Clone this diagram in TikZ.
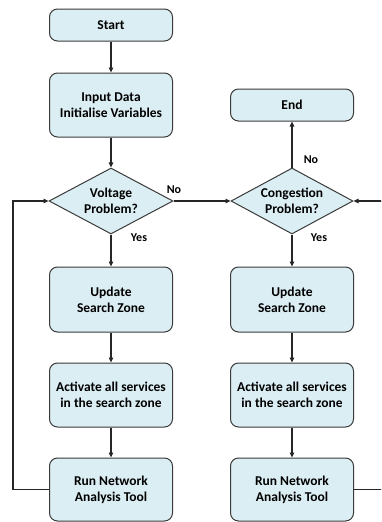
\documentclass[tikz,border=0pt]{standalone}
\usepackage{fontspec}
\setmainfont{Carlito}
\usetikzlibrary{positioning,shapes.geometric,arrows.meta}
\definecolor{boxfill}{HTML}{DBEEF4}
\definecolor{boxline}{HTML}{3A3A3A}
\tikzset{
  flowbox/.style={rectangle, rounded corners=8pt, draw=boxline, fill=boxfill, line width=1pt,
    minimum width=123pt, inner sep=0pt, align=center, font=\fontsize{13.5}{16}\selectfont\bfseries},
  decision/.style={diamond, aspect=1.88, draw=boxline, fill=boxfill, line width=1pt,
    minimum width=124pt, minimum height=66pt, inner sep=0pt, align=center, font=\fontsize{13.5}{16}\selectfont\bfseries},
  flowarr/.style={-{Triangle[length=5pt,width=4.5pt]}, line width=1.2pt, draw=black!85},
  answer/.style={inner sep=1pt, font=\fontsize{12}{14}\selectfont\bfseries}
}
\begin{document}
\begin{tikzpicture}[x=1pt,y=-1pt]
\clip (0,0) rectangle (381,522);
% left column
\node[flowbox, minimum height=32pt] (start) at (111,25) {Start};
\node[flowbox, minimum height=64pt] (input) at (111,105) {Input Data\\Initialise Variables};
\node[decision] (vdiam) at (111,201) {Voltage\\Problem?};
\node[flowbox, minimum height=65pt] (vupd) at (111,299.5) {Update\\Search Zone};
\node[flowbox, minimum height=64pt] (vact) at (111,395) {Activate all services\\in the search zone};
\node[flowbox, minimum height=63pt] (vrun) at (111,489.5) {Run Network\\Analysis Tool};
% right column
\node[flowbox, minimum height=32pt] (end) at (292,105) {End};
\node[decision, minimum width=122pt] (cdiam) at (292,201) {Congestion\\Problem?};
\node[flowbox, minimum height=65pt] (cupd) at (292,299.5) {Update\\Search Zone};
\node[flowbox, minimum height=64pt] (cact) at (292,395) {Activate all services\\in the search zone};
\node[flowbox, minimum height=63pt] (crun) at (292,489.5) {Run Network\\Analysis Tool};
% loop corners
\coordinate (lbend) at (13,0);
\coordinate (rbend) at (386,0);
% answers
\node[answer] (vno) at (174,190) {No};
\node[answer] (vyes) at (139,238) {Yes};
\node[answer] (cno) at (311,160) {No};
\node[answer] (cyes) at (319,238) {Yes};
% connectors
\draw[flowarr] (start) -- (input);
\draw[flowarr] (input) -- (vdiam);
\draw[flowarr] (vdiam) -- (vupd);
\draw[flowarr] (vupd) -- (vact);
\draw[flowarr] (vact) -- (vrun);
\draw[flowarr] (vrun.west) -- (vrun.west -| lbend) |- (vdiam.west);
\draw[flowarr] (vdiam.east) -- (cdiam.west);
\draw[flowarr] (cdiam) -- (end);
\draw[flowarr] (cdiam) -- (cupd);
\draw[flowarr] (cupd) -- (cact);
\draw[flowarr] (cact) -- (crun);
\draw[flowarr] (crun.east) -- (crun.east -| rbend) |- (cdiam.east);
\end{tikzpicture}
\end{document}
